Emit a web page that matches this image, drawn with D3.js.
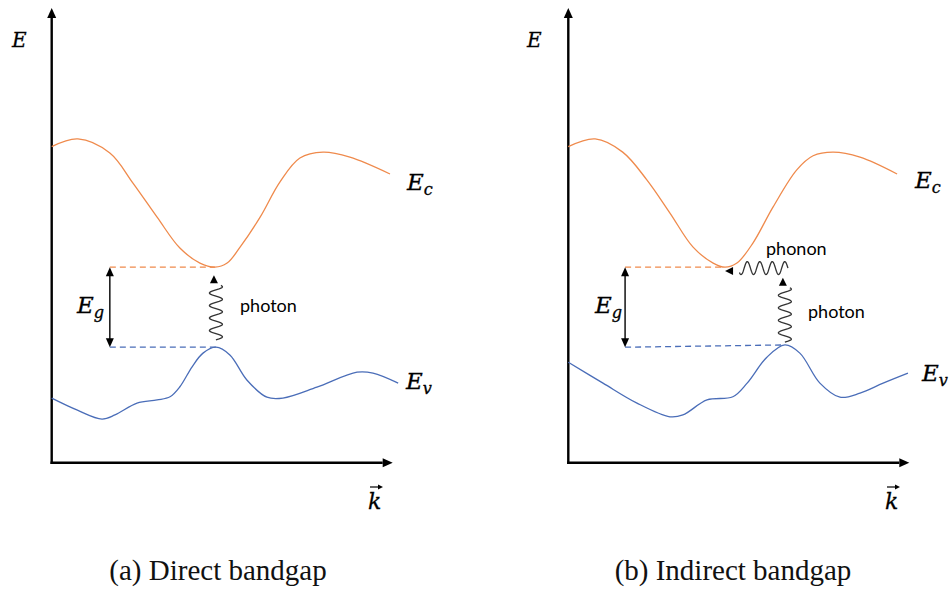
<!DOCTYPE html>
<html>
<head>
<meta charset="utf-8">
<script src="https://cdn.jsdelivr.net/npm/d3@7"></script>
<style>
  body { margin: 0; background: #fff; }
  svg { display: block; }
</style>
</head>
<body>
<svg id="chart" width="949" height="590"></svg>
<script>
// Band edges E(k) in arbitrary units: k and E both run 0–10 along each axis.
const conductionDirect = [
  [0.00, 6.95], [0.77, 7.12], [1.71, 6.81], [2.39, 6.15], [3.10, 5.40], [3.77, 4.72],
  [4.36, 4.39], [4.80, 4.30], [5.16, 4.39], [5.54, 4.74], [6.13, 5.40], [6.71, 6.17],
  [7.30, 6.70], [7.98, 6.83], [8.77, 6.72], [9.95, 6.35]
];
const valenceDirect = [
  [0.00, 1.42], [0.74, 1.16], [1.48, 0.96], [1.86, 1.05], [2.51, 1.31], [3.10, 1.38],
  [3.48, 1.45], [3.77, 1.67], [4.13, 2.11], [4.45, 2.41], [4.83, 2.54], [5.24, 2.37],
  [5.74, 1.82], [6.33, 1.44], [6.80, 1.42], [7.80, 1.66], [8.98, 1.99], [9.45, 1.97],
  [10.19, 1.75]
];
const conductionIndirect = [
  [0.00, 6.95], [0.79, 7.12], [1.60, 6.83], [2.31, 6.22], [2.99, 5.49], [3.67, 4.74],
  [4.26, 4.39], [4.61, 4.30], [4.96, 4.39], [5.43, 4.83], [6.02, 5.62], [6.72, 6.44],
  [7.20, 6.75], [7.79, 6.83], [8.58, 6.72], [9.67, 6.35]
];
const valenceIndirect = [
  [0.00, 2.21], [1.02, 1.75], [2.02, 1.31], [2.99, 1.01], [3.37, 1.05], [4.08, 1.38],
  [4.84, 1.45], [5.26, 1.75], [5.84, 2.32], [6.37, 2.59], [6.81, 2.41], [7.40, 1.75],
  [7.99, 1.44], [8.58, 1.53], [9.26, 1.75], [9.99, 1.97]
];

// Gap markers: k of the Eg arrow, conduction minimum and valence maximum
const gapDirect   = { kArrow: 1.71, kCmin: 4.80, ec: 4.30, kVmax: 4.83, ev: 2.54, evArrow: 2.54 };
const gapIndirect = { kArrow: 1.67, kCmin: 4.61, ec: 4.30, kVmax: 6.37, ev: 2.59, evArrow: 2.54 };

// Photon (vertical) and phonon (horizontal) transitions
const photonDirect   = { k: 4.83, from: 2.70, to: 4.12 };
const photonIndirect = { k: 6.37, from: 2.65, to: 4.07 };
const phononIndirect = { e: 4.28, from: 6.46, to: 4.61 };

const captions = ["(a) Direct bandgap", "(b) Indirect bandgap"];

const COLORS = { cond: "#EF8A4C", val: "#4A6DB8", ink: "#000", wave: "#333" };
const svg = d3.select("#chart");

function arrowHead(g, tipX, tipY, dx, dy, len, half) {
  const px = -dy, py = dx;
  const bx = tipX - dx * len, by = tipY - dy * len;
  g.append("path")
    .attr("d", `M${tipX},${tipY}L${bx + px * half},${by + py * half}L${bx - px * half},${by - py * half}Z`)
    .attr("fill", COLORS.ink);
}

// Sinusoidal squiggle between two points
function squiggle(x1, y1, x2, y2, amp, wavelength) {
  const L = Math.hypot(x2 - x1, y2 - y1);
  const ux = (x2 - x1) / L, uy = (y2 - y1) / L;
  const nx = -uy, ny = ux;
  const pts = d3.range(0, L + 0.01, 0.5).map(s => {
    const off = amp * Math.sin(2 * Math.PI * s / wavelength);
    return [x1 + ux * s + nx * off, y1 + uy * s + ny * off];
  });
  return d3.line()(pts);
}

const panels = [
  { x0: 51.7, cond: conductionDirect, val: valenceDirect, gap: gapDirect,
    photon: photonDirect, phonon: null, caption: captions[0], capX: 218,
    labels: { E: [12, 47], Ec: [407, 190], Ev: [406, 389], Eg: [77, 313], k: [368, 509],
              photon: [240, 312] } },
  { x0: 568.3, cond: conductionIndirect, val: valenceIndirect, gap: gapIndirect,
    photon: photonIndirect, phonon: phononIndirect, caption: captions[1], capX: 733,
    labels: { E: [527, 47], Ec: [915, 188], Ev: [922, 381], Eg: [595, 313], k: [885, 509],
              photon: [808, 318], phonon: [766, 255] } }
];

panels.forEach(p => {
  const x = d3.scaleLinear().domain([0, 10]).range([p.x0, p.x0 + 340]);
  const y = d3.scaleLinear().domain([0, 10]).range([462.7, 8]);
  const g = svg.append("g");

  // Axes with arrowheads
  g.append("line").attr("x1", x(0)).attr("x2", x(0)).attr("y1", y(0) + 1.2).attr("y2", y(10) + 9)
    .attr("stroke", COLORS.ink).attr("stroke-width", 2.4);
  arrowHead(g, x(0), y(10), 0, -1, 10, 4.5);
  g.append("line").attr("x1", x(0) - 1.2).attr("x2", x(10) - 9).attr("y1", y(0)).attr("y2", y(0))
    .attr("stroke", COLORS.ink).attr("stroke-width", 2.4);
  arrowHead(g, x(10) + 1, y(0), 1, 0, 10, 4.5);

  const line = d3.line().x(d => x(d[0])).y(d => y(d[1])).curve(d3.curveCatmullRom.alpha(0.5));
  g.append("path").attr("d", line(p.cond)).attr("fill", "none")
    .attr("stroke", COLORS.cond).attr("stroke-width", 1.3);
  g.append("path").attr("d", line(p.val)).attr("fill", "none")
    .attr("stroke", COLORS.val).attr("stroke-width", 1.3);

  // Dashed band-edge guides
  g.append("line").attr("x1", x(p.gap.kArrow)).attr("x2", x(p.gap.kCmin))
    .attr("y1", y(p.gap.ec)).attr("y2", y(p.gap.ec))
    .attr("stroke", COLORS.cond).attr("stroke-width", 1.3).attr("stroke-dasharray", "6,4");
  g.append("line").attr("x1", x(p.gap.kArrow)).attr("x2", x(p.gap.kVmax))
    .attr("y1", y(p.gap.evArrow)).attr("y2", y(p.gap.ev))
    .attr("stroke", COLORS.val).attr("stroke-width", 1.3).attr("stroke-dasharray", "6,4");

  // Eg double arrow
  const ax = x(p.gap.kArrow);
  g.append("line").attr("x1", ax).attr("x2", ax)
    .attr("y1", y(p.gap.ec) + 7).attr("y2", y(p.gap.evArrow) - 7)
    .attr("stroke", COLORS.ink).attr("stroke-width", 1.4);
  arrowHead(g, ax, y(p.gap.ec), 0, -1, 9, 4);
  arrowHead(g, ax, y(p.gap.evArrow), 0, 1, 9, 4);

  // Photon: squiggle rising to an arrowhead under the conduction band
  const ph = p.photon;
  const px = x(ph.k);
  g.append("path").attr("d", squiggle(px, y(ph.from), px, y(ph.to) + 10, 6.5, 12.5))
    .attr("fill", "none").attr("stroke", COLORS.wave).attr("stroke-width", 1.3);
  arrowHead(g, px - 2, y(ph.to), 0, -1, 8, 4);

  // Phonon: horizontal squiggle pointing back to the conduction minimum
  if (p.phonon) {
    const pn = p.phonon;
    const py = y(pn.e);
    g.append("path").attr("d", squiggle(x(pn.from), py, x(pn.to) + 14, py, 6.5, 12.5))
      .attr("fill", "none").attr("stroke", COLORS.wave).attr("stroke-width", 1.3);
    arrowHead(g, x(pn.to), py + 3, -1, 0, 8, 4);
  }

  // Math labels
  const L = p.labels;
  const math = (pos, main, sub, size) => {
    const t = g.append("text").attr("x", pos[0]).attr("y", pos[1])
      .attr("font-family", "DejaVu Serif").attr("font-style", "italic")
      .attr("font-size", size).attr("fill", COLORS.ink)
      .attr("stroke", COLORS.ink).attr("stroke-width", 0.3);
    t.append("tspan").text(main);
    if (sub) t.append("tspan").attr("dy", size * 0.22).attr("font-size", size * 0.7).text(sub);
  };
  math(L.E, "E", null, 20);
  math(L.Ec, "E", "c", 23);
  math(L.Ev, "E", "v", 23);
  math(L.Eg, "E", "g", 23);

  // Wave vector k with arrow
  g.append("text").attr("x", L.k[0]).attr("y", L.k[1])
    .attr("font-family", "DejaVu Serif").attr("font-style", "italic")
    .attr("font-size", 22).attr("fill", COLORS.ink)
    .attr("stroke", COLORS.ink).attr("stroke-width", 0.3).text("k");
  g.append("line").attr("x1", L.k[0] + 2).attr("x2", L.k[0] + 12).attr("y1", L.k[1] - 22).attr("y2", L.k[1] - 22)
    .attr("stroke", COLORS.ink).attr("stroke-width", 1.2);
  arrowHead(g, L.k[0] + 15, L.k[1] - 22, 1, 0, 5, 2.5);

  const sans = (pos, txt) => g.append("text").attr("x", pos[0]).attr("y", pos[1])
    .attr("font-family", "Lato").attr("font-size", 18).attr("fill", "#000").text(txt);
  sans(L.photon, "photon");
  if (L.phonon) sans(L.phonon, "phonon");

  g.append("text").attr("x", p.capX).attr("y", 580).attr("text-anchor", "middle")
    .attr("font-family", "Liberation Serif").attr("font-size", 29).attr("fill", "#111")
    .text(p.caption);
});
</script>
</body>
</html>
